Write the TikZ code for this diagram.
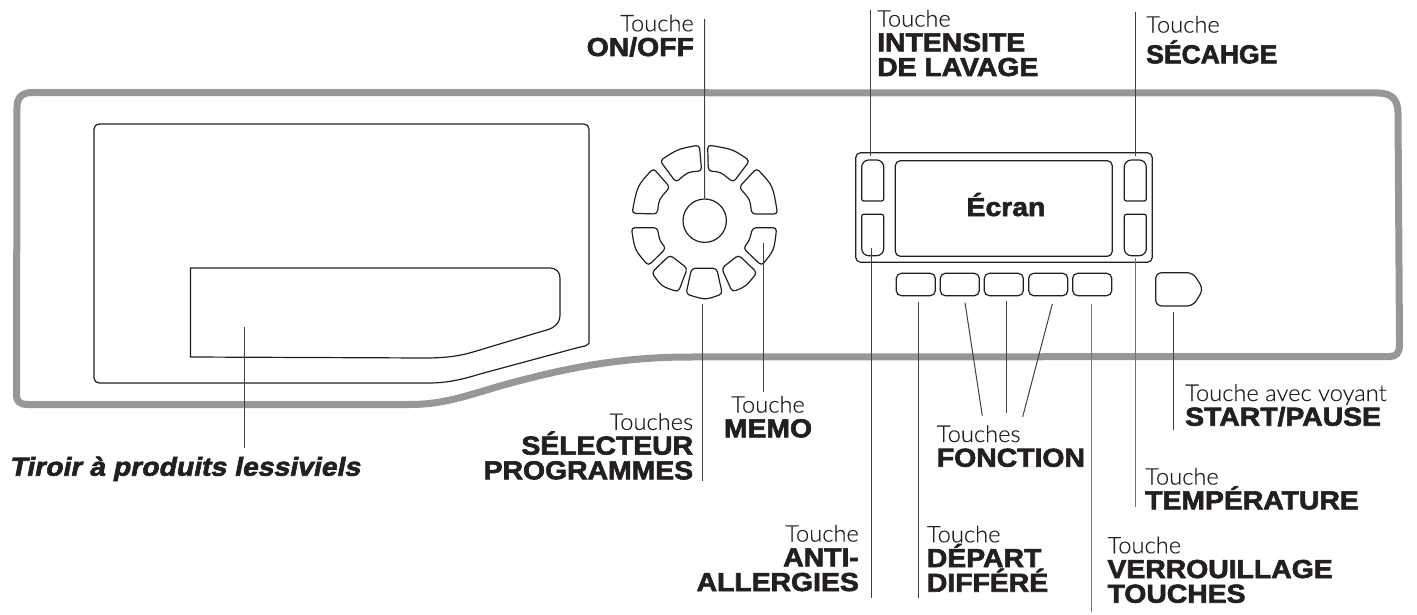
\documentclass[tikz,border=0pt]{standalone}
\usepackage{fontspec}
\usepackage{tikz}
\usetikzlibrary{calc,positioning}
\setmainfont{Liberation Sans}
\newfontfamily\lightfont[FakeStretch=1.03,FakeBold=0.3]{Lato Light}
\newfontfamily\heavyfont[FakeStretch=1.09,FakeBold=2.4]{Liberation Sans Bold}
\newfontfamily\heavynarrow[FakeStretch=1.02,FakeBold=2.4]{Liberation Sans Bold}
\newfontfamily\heavyslant[FakeStretch=1.09,FakeBold=2.4,FakeSlant=0.2]{Liberation Sans Bold}
\newcommand{\hv}{\heavyfont\fontsize{26}{24.7}\selectfont}
\definecolor{framegray}{RGB}{155,150,150}
\definecolor{inkdark}{RGB}{35,31,32}

\begin{document}
\begin{tikzpicture}[
    x=1pt, y=-1pt,
    % Styles
    frameline/.style={% the grey outline of the panel
        draw=framegray,
        line width=7pt,
        },
    outline/.style={% drawer and keys
        draw=inkdark,
        line width=1.2pt,
        },
    ringkey/.style={% keys round the knob
        outline,
        rounded corners=3.5pt,
        },
    fkey/.style={% keys under the screen
        rectangle,
        outline,
        rounded corners=5pt,
        minimum width=39pt,
        minimum height=22.4pt,
        inner sep=0pt,
        },
    leader/.style={% thin lines to the labels
        draw=black!75,
        line width=1pt,
        },
    leadergray/.style={% the paler ones
        draw=black!55,
        line width=1.3pt,
        },
    keylabel/.style={% Touche + bold name
        inner sep=0pt,
        text=inkdark,
        font=\lightfont\fontsize{23}{24.7}\selectfont,
        },
    ]

\useasboundingbox (0,0) rectangle (1417,615);

    % Panel outline
    \draw [frameline] (17,108) .. controls (17,97) and (22,92.5) .. (33,92.5) -- (1378,93)
        .. controls (1392,93) and (1398,100) .. (1398,113) -- (1399.5,345)
        .. controls (1399.5,353) and (1396,356.5) .. (1390,356.5) -- (690,357)
        .. controls (620,357) and (565,368) .. (500,386)
        .. controls (460,398) and (440,404.5) .. (410,404.5) -- (28,404.5)
        .. controls (19,404.5) and (16.5,401) .. (16.5,395) -- cycle;

    % Drawer
    \draw [outline, rounded corners=5pt] (94,383) -- (94,124) -- (589,124) -- (589,338)
        .. controls (589,344) and (585,346) .. (580,347) -- (480,374)
        .. controls (460,380) and (445,383) .. (425,383) -- cycle;
    \draw [outline] (190.5,268) -- (550,268) .. controls (556,268) and (560,272) .. (560,278) -- (560,315)
        .. controls (560,324) and (553,329) .. (543,331) -- (473,352)
        .. controls (460,356) and (445,358) .. (425,358) -- (190.5,357) -- cycle;

    % Knob and the ring of keys
    \node [circle, outline, minimum size=43.4pt, inner sep=0pt] (knob) at (704.7,220.7) {};
    \begin{scope}[shift={(600,90)}, x=0.3333pt, y=-0.3333pt]
    \draw [ringkey] (180,212) .. controls (233,177.5) .. (298,165) -- (305,243) .. controls (263.5,246) .. (228,277) -- cycle;
    \draw [ringkey] (323,165) .. controls (398,177.5) .. (449,212) -- (400,277) .. controls (361.5,246) .. (325,243) -- cycle;
    \draw [ringkey] (96,370) .. controls (112,287.5) .. (160,235) -- (210,292) .. controls (177,328) .. (172,372) -- cycle;
    \draw [ringkey] (470,235) .. controls (518.5,286.5) .. (533,372) -- (455,372) .. controls (450,328) .. (417,292) -- cycle;
    \draw [ringkey] (172,413) .. controls (179,452) .. (198,475) -- (145,527) .. controls (104.5,480) .. (94,413) -- cycle;
    \draw [ringkey] (458,413) .. controls (448,452) .. (430,475) -- (485,527) .. controls (522.5,480) .. (530,413) -- cycle;
    \draw [ringkey] (210,495) -- (262,535) -- (235,606) .. controls (185,589) .. (155,548) -- cycle;
    \draw [ringkey] (416,495) -- (471,548) .. controls (438,589) .. (397,606) -- (365,535) -- cycle;
    \draw [ringkey] (275,535) -- (350,535) -- (367,612) .. controls (315.5,630) .. (258,612) -- cycle;
    \end{scope}

    % Screen block
    \node [rectangle, outline, rounded corners=5pt, minimum width=296.6pt, minimum height=109.6pt, inner sep=0pt] (panel) at (1004,207.5) {};
    \node [rectangle, outline, rounded corners=5pt, minimum width=217pt, minimum height=95.6pt, inner sep=0pt] (screen) at (1003.8,208.5) {};
    \node [keylabel, anchor=base] (ecran) at (1006,216) {\hv Écran};
    \foreach \x in {861.7,1124.3}{
        \draw [outline, rounded corners=2pt] (\x,201) [rounded corners=7pt] -- (\x,160) -- (\x+22,160) [rounded corners=2pt] -- (\x+22,201) -- cycle;
        \draw [outline, rounded corners=7pt] (\x,255.7) [rounded corners=2pt] -- (\x,214.3) -- (\x+22,214.3) [rounded corners=7pt] -- (\x+22,255.7) -- cycle;
    }
    \foreach \i/\x in {1/915.8,2/959.8,3/1003.8,4/1048.2,5/1092.2}{
        \node [fkey] (fkey\i) at (\x,284.5) {};
    }

    % Start key
    \draw [outline, rounded corners=6pt] (1155.7,272.7) -- (1193,272.7) -- (1203.3,289.3) -- (1193,306) -- (1155.7,306) -- cycle;

    % Labels
    \node [keylabel, anchor=base east, align=right] (lonoff) at (694,56) {Touche\\\hv ON/OFF};
    \node [keylabel, anchor=base west, align=left] (lintensite) at (877,76) {Touche\\\hv INTENSITE\\\hv DE LAVAGE};
    \node [keylabel, anchor=base west, align=left] (lsechage) at (1146,63.3) {Touche\\[6pt]\heavynarrow\fontsize{26}{24.7}\selectfont SÉCAHGE};
    \node [keylabel, anchor=base west, align=left] (lstart) at (1185,425.7) {Touche avec voyant\\\hv START/PAUSE};
    \node [keylabel, anchor=base west, align=left] (ltemp) at (1145,509.3) {Touche\\\hv TEMPÉRATURE};
    \node [keylabel, anchor=base west, align=left] (lverrou) at (1107.3,602.7) {Touche\\\hv VERROUILLAGE\\\hv TOUCHES};
    \node [keylabel, anchor=base west, align=left] (lfonction) at (936.7,466.7) {Touches\\\hv FONCTION};
    \node [keylabel, anchor=base west, align=left] (ldepart) at (926.7,591.7) {Touche\\\hv DÉPART\\\hv DIFFÉRÉ};
    \node [keylabel, anchor=base east, align=right] (lanti) at (859,591) {Touche\\\hv ANTI-\\\hv ALLERGIES};
    \node [keylabel, anchor=base, align=center] (lmemo) at (768,437.3) {Touche\\\hv MEMO};
    \node [keylabel, anchor=base east, align=right] (lselect) at (693.3,479.3) {Touches\\\hv SÉLECTEUR\\\hv PROGRAMMES};
    \node [keylabel, anchor=base west] (ltiroir) at (9,475.7) {\heavyslant\fontsize{26}{25}\selectfont Tiroir à produits lessiviels};

    % Free ends of the leaders
    \coordinate (tonoff) at (704.5,19);
    \coordinate (tintensite) at (870.3,10);
    \coordinate (kintensite) at (870.3,156);
    \coordinate (tsechage) at (1135.4,12);
    \coordinate (ksechage) at (1135.4,156);
    \coordinate (ktiroir) at (244,326.7);
    \coordinate (ttiroir) at (244,447.7);
    \coordinate (kselect) at (702.7,304);
    \coordinate (tselect) at (702.7,480.7);
    \coordinate (kmemo) at (763,243.3);
    \coordinate (tmemo) at (763,391.7);
    \coordinate (kanti) at (871.3,248);
    \coordinate (tanti) at (871.3,598);
    \coordinate (kdepart) at (918.2,301.7);
    \coordinate (tdepart) at (918.2,598);
    \coordinate (kfa) at (965,302.7);
    \coordinate (tfa) at (982.3,415.7);
    \coordinate (kfb) at (1006.8,300.7);
    \coordinate (tfb) at (1006.8,413);
    \coordinate (kfc) at (1052.3,304);
    \coordinate (tfc) at (1022.7,416.7);
    \coordinate (kverrou) at (1091.7,304);
    \coordinate (tverrou) at (1091.7,612);
    \coordinate (ktemp) at (1135.8,258.3);
    \coordinate (ttemp) at (1135.8,507.3);
    \coordinate (kstart) at (1173.7,311.7);
    \coordinate (tstart) at (1173.7,430);

    % Leaders
    \draw [leader] (tonoff) -- (knob.north);
    \draw [leader] (tintensite) -- (kintensite);
    \draw [leader] (tsechage) -- (ksechage);
    \draw [leader] (ktiroir) -- (ttiroir);
    \draw [leader] (kselect) -- (tselect);
    \draw [leader] (kmemo) -- (tmemo);
    \draw [leader] (kanti) -- (tanti);
    \draw [leader] (kdepart) -- (tdepart);
    \draw [leader] (kfa) -- (tfa);
    \draw [leader] (kfb) -- (tfb);
    \draw [leader] (kfc) -- (tfc);
    \draw [leadergray] (kverrou) -- (tverrou);
    \draw [leadergray] (ktemp) -- (ttemp);
    \draw [leader] (kstart) -- (tstart);
\end{tikzpicture}
\end{document}
